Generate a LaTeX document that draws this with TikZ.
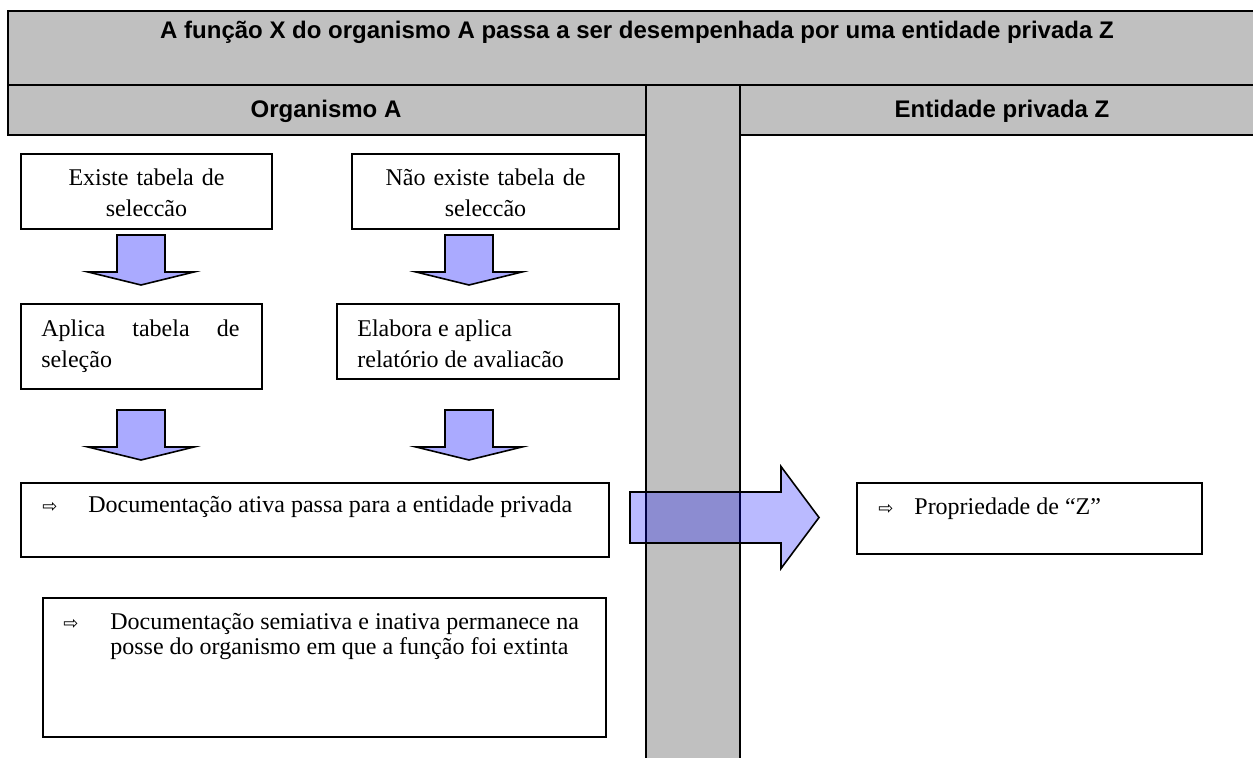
\documentclass[tikz,border=0pt]{standalone}
\usepackage{fontspec}
\setmainfont{Liberation Serif}
\newfontfamily\headfont{Liberation Sans}
\newfontfamily\symfont{DejaVu Sans}
\usepackage{xcolor}
\usepackage{tikz}
\definecolor{cellgray}{RGB}{192,192,192}
\definecolor{dropblue}{RGB}{170,170,255}

\newcommand{\seta}{{\symfont\fontsize{9}{9}\selectfont ⇨}}

\tikzset{
  cell/.style={draw, line width=1pt, fill=cellgray},
  head/.style={font=\headfont\bfseries\fontsize{12}{14}\selectfont, anchor=base, inner sep=0pt},
  box/.style={draw, line width=1pt, anchor=north west, inner sep=0pt},
  txt/.style={anchor=base west, inner sep=0pt, font=\fontsize{12}{12.5}\selectfont, align=flush left},
  downblock/.pic={\draw[line width=0.8pt, fill=dropblue] (-24,0) -- (24,0) -- (24,37) -- (53,37) -- (0,50) -- (-53,37) -- (-24,37) -- cycle;},
  rightblock/.pic={\draw[line width=0.8pt, fill=blue, fill opacity=0.27] (0,-25.5) -- (151,-25.5) -- (151,-51) -- (189,0) -- (151,51) -- (151,25.5) -- (0,25.5) -- cycle;}
}

\begin{document}
\begin{tikzpicture}[x=0.5pt,y=-0.5pt]
  \useasboundingbox (0,0) rectangle (1253,758);
  % cabecalho
  \draw[cell] (8,11) rectangle (1262,85);
  \draw[cell] (8,85) rectangle (646,135);
  \draw[cell] (740,85) rectangle (1262,135);
  \draw[cell] (646,85) rectangle (740,764);
  \node[head] (titulo) at (637,39) {A função X do organismo A passa a ser desempenhada por uma entidade privada Z};
  \node[head] (orgA) at (326,118) {Organismo A};
  \node[head] (entZ) at (1002,118) {Entidade privada Z};

  % organismo A
  \node[box, minimum width=125.5pt, minimum height=37.5pt] (existe) at (20,153) {};
  \node[txt, anchor=base, text width=125.5pt, align=center, font=\fontsize{12}{15.5}\selectfont] (existetxt) at ([shift={(0,33)}]existe.north) {Existe tabela de\\seleccão};
  \node[box, minimum width=133.5pt, minimum height=37.5pt] (naoexiste) at (351,153) {};
  \node[txt, anchor=base, text width=133.5pt, align=center, font=\fontsize{12}{15.5}\selectfont] (naoexistetxt) at ([shift={(0,33)}]naoexiste.north) {Não existe tabela de\\seleccão};
  \pic at ([shift={(-5.5,5)}]existe.south) {downblock};
  \pic at ([shift={(-16.5,5)}]naoexiste.south) {downblock};

  \node[box, minimum width=120.5pt, minimum height=42.5pt] (aplica) at (20,303) {};
  \node[txt, text width=99pt, font=\fontsize{12}{15.5}\selectfont] (aplicatxt) at ([shift={(21,34)}]aplica.north west) {\hbox to 99pt{Aplica\hfill tabela\hfill de}\\seleção};
  \node[box, minimum width=141pt, minimum height=37.5pt] (elabora) at (336,303) {};
  \node[txt, text width=120pt, font=\fontsize{12}{15.5}\selectfont] (elaboratxt) at ([shift={(21,34)}]elabora.north west) {Elabora e aplica\\relatório de avaliacão};
  \pic at ([shift={(-0.5,20)}]aplica.south) {downblock};
  \pic at ([shift={(-9,30)}]elabora.south) {downblock};

  \node[box, minimum width=294pt, minimum height=37pt] (ativa) at (20,482) {};
  \node[txt] (ativaseta) at ([shift={(22,31)}]ativa.north west) {\seta};
  \node[txt] (ativatxt) at ([shift={(68,31)}]ativa.north west) {Documentação ativa passa para a entidade privada};

  \node[box, minimum width=281.5pt, minimum height=69.5pt] (semi) at (42,597) {};
  \node[txt] (semiseta) at ([shift={(21,33)}]semi.north west) {\seta};
  \node[txt, text width=240pt] (semitxt) at ([shift={(68,33)}]semi.north west) {Documentação semiativa e inativa permanece na\\posse do organismo em que a função foi extinta};

  % passagem para Z
  \pic at ([shift={(20,-2.5)}]ativa.east) {rightblock};

  \node[box, minimum width=172.5pt, minimum height=35.5pt] (prop) at (856,482) {};
  \node[txt] (propseta) at ([shift={(22,33)}]prop.north west) {\seta};
  \node[txt] (proptxt) at ([shift={(58,33)}]prop.north west) {Propriedade de “Z”};
\end{tikzpicture}
\end{document}
